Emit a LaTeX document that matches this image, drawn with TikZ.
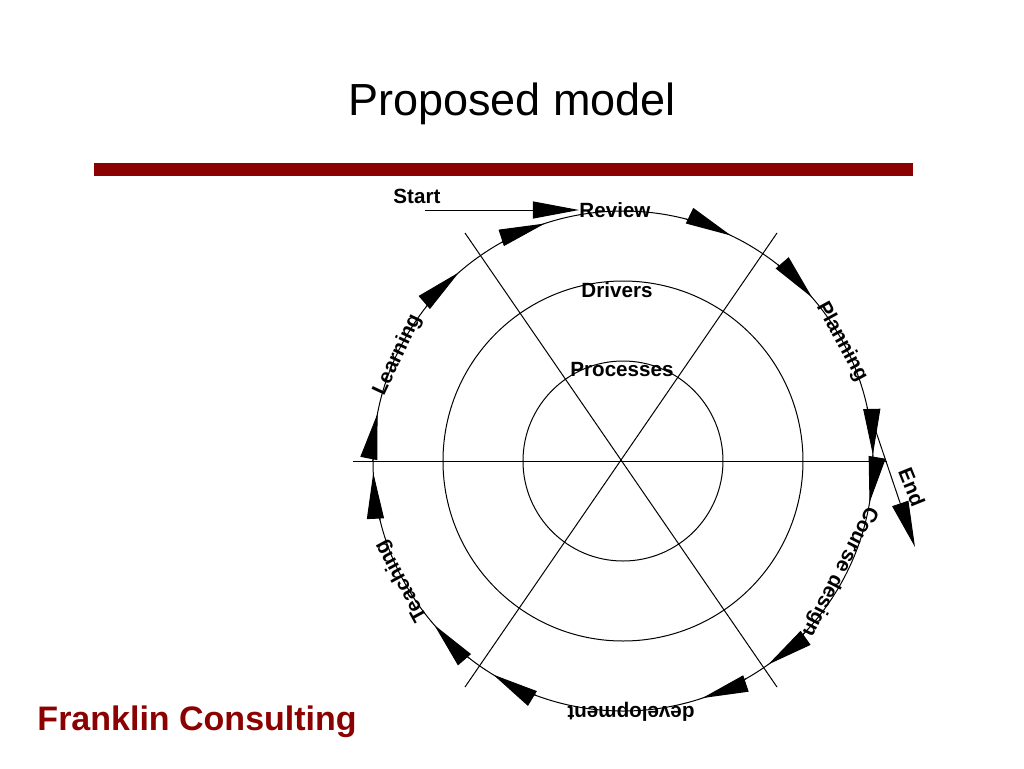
\documentclass[tikz,border=0pt]{standalone}
\usepackage{fontspec}
\setmainfont{Liberation Sans}
\usetikzlibrary{arrows.meta}
\definecolor{franklinred}{RGB}{139,0,0}

\begin{document}
\begin{tikzpicture}[x=0.5pt,y=0.5pt,line width=0.5pt,
  >={Triangle[length=23pt,width=8.5pt]},
  ring label/.style={font=\fontsize{10.3}{12}\selectfont\bfseries,inner sep=0pt},
  title node/.style={font=\fontsize{22.5}{27}\selectfont,anchor=base,inner sep=0pt},
  firm node/.style={font=\fontsize{17}{20}\selectfont\bfseries,text=franklinred,anchor=base west,inner sep=0pt}]

  \useasboundingbox (-623,-307) rectangle (401,461);

  % title and bar
  \node[title node] (title) at (-111,346) {Proposed model};
  \fill[franklinred] (-529,285) rectangle (290,298);
  \node[firm node] (firm) at (-586,-269) {Franklin Consulting};

  % rings and spokes
  \draw (0,0) circle (100) (0,0) circle (180) (0,0) circle (250);
  \draw (-270,0) -- (264,0);
  \draw (-158,228) -- (154,-226);
  \draw (154,228) -- (-158,-226);

  % arrows round the outer ring
  \foreach \a in {131,108.2,64.4,40.8,1.4,-9.6,-54.5,-71.5,238.7,221,182.7,169}
    \draw[->] ({\a+11}:250) arc[start angle={\a+11},end angle=\a,radius=250];

  % labels
  \node[ring label,anchor=base west] (start) at (-230,258) {Start};
  \node[ring label] (review) at (-8,251) {Review};
  \node[ring label] (drivers) at (-6,171) {Drivers};
  \node[ring label] (proc) at (-1,91) {Processes};
  \node[ring label,rotate=-61.5] (plan) at (28.5:249) {Planning};
  \node[ring label,rotate=-117] (design) at (-27:243) {Course design};
  \node[ring label,rotate=180] (devel) at (8,-251) {development};
  \node[ring label,rotate=118.5] (teach) at (208.5:252) {Teaching};
  \node[ring label,rotate=64.8] (learn) at (154.8:249) {Learning};
  \node[ring label,rotate=-68] (endlbl) at (289,-26) {End};

  % start and end
  \coordinate (startfrom) at (-198,251);
  \draw[->] (startfrom) -- (review.west);
  \coordinate (endfrom) at (8.6:253);
  \coordinate (endto) at (292,-86);
  \draw[->] (endfrom) -- (endto);

\end{tikzpicture}
\end{document}
